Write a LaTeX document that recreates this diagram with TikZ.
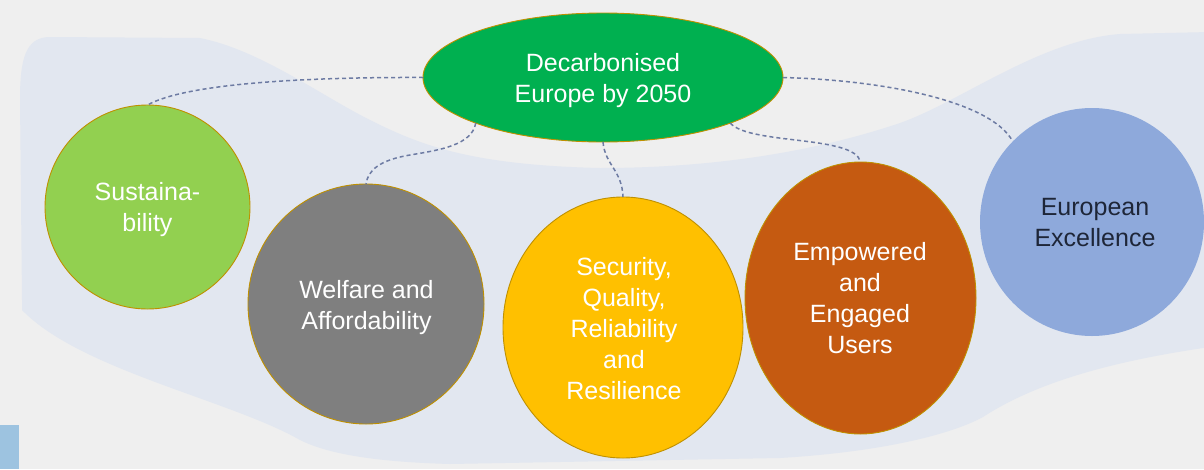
\documentclass[tikz,border=0pt]{standalone}
\usepackage{fontspec}
\setmainfont{Liberation Sans}
\usetikzlibrary{shapes.geometric}
\definecolor{bgc}{HTML}{EFEFEF}
\definecolor{blobc}{HTML}{E2E7F0}
\definecolor{greenc}{HTML}{00B050}
\definecolor{sustc}{HTML}{92D050}
\definecolor{grayc}{HTML}{7F7F7F}
\definecolor{yellowc}{HTML}{FFC000}
\definecolor{orangec}{HTML}{C55A11}
\definecolor{bluec}{HTML}{8EA9DB}
\definecolor{navyc}{HTML}{1E2638}
\definecolor{outl}{HTML}{BF9000}
\definecolor{dashc}{HTML}{6D7BA3}
\definecolor{barc}{HTML}{9DC3E0}
\begin{document}
\begin{tikzpicture}[x=1pt,y=-1pt,
  disc/.style={ellipse, draw=outl, line width=0.9pt, inner sep=0pt, outer sep=0pt},
  lbl/.style={align=center, font=\fontsize{25}{31}\selectfont, text=white, inner sep=0pt},
  conn/.style={draw=dashc, line width=1.5pt, dash pattern=on 4pt off 3pt}]
\useasboundingbox (0,0) rectangle (1204,469);
\clip (0,0) rectangle (1204,469);
\fill[bgc] (0,0) rectangle (1204,469);
\fill[blobc] (22,300) -- (20,100) .. controls (20,60) and (25,37) .. (50,37)
  -- (200,38) .. controls (260,50) and (320,95) .. (370,120)
  .. controls (420,145) and (470,165) .. (600,168)
  .. controls (720,168) and (820,150) .. (900,123)
  .. controls (960,102) and (1040,40) .. (1120,34) -- (1210,32) -- (1210,347)
  .. controls (1120,360) and (1040,380) .. (983,417)
  .. controls (950,435) and (880,452) .. (780,458) -- (450,464)
  .. controls (380,462) and (330,455) .. (300,440)
  .. controls (230,400) and (80,370) .. (22,310) -- cycle;
\fill[barc] (0,425) rectangle (19,469);

% shapes
\node[disc, fill=greenc, minimum width=360pt, minimum height=129pt] (green) at (603,77.5) {};
\node[disc, fill=sustc, minimum width=205pt, minimum height=204pt] (sust) at (147.5,207) {};
\node[disc, fill=grayc, minimum width=236pt, minimum height=240pt] (welf) at (366,304) {};
\node[disc, fill=yellowc, minimum width=240pt, minimum height=261pt] (secu) at (623,327.5) {};
\node[disc, fill=orangec, minimum width=231pt, minimum height=272pt] (empo) at (860.5,298) {};
\node[ellipse, fill=bluec, inner sep=0pt, minimum width=224pt, minimum height=228pt] (euro) at (1092,222) {};

% labels
\node[lbl] (greenT) at (603,80.5) {Decarbonised\\Europe by 2050};
\node[lbl] (sustT) at (147.5,209.5) {Sustaina-\\bility};
\node[lbl] (welfT) at (366.5,307.5) {Welfare and\\Affordability};
\node[lbl] (secuT) at (624,328.4) {Security,\\Quality,\\Reliability\\and\\Resilience};
\node[lbl] (empoT) at (860,297.9) {Empowered\\and\\Engaged\\Users};
\node[lbl, text=navyc] (euroT) at (1095,222.5) {European\\Excellence};

% connectors
\draw[conn] (green.west) .. controls (300,77) and (185,84) .. (sust.north);
\draw[conn] (green.south west) .. controls (472,145) and (440,150) .. (410,155)
  .. controls (380,160) and (368,170) .. (welf.north);
\draw[conn] (green.south) .. controls (605,165) and (622,170) .. (secu.north);
\draw[conn] (green.south east) .. controls (750,145) and (855,135) .. (empo.north);
\draw[conn] (green.east) .. controls (880,80) and (990,100) .. (euro.north west);
\end{tikzpicture}
\end{document}
